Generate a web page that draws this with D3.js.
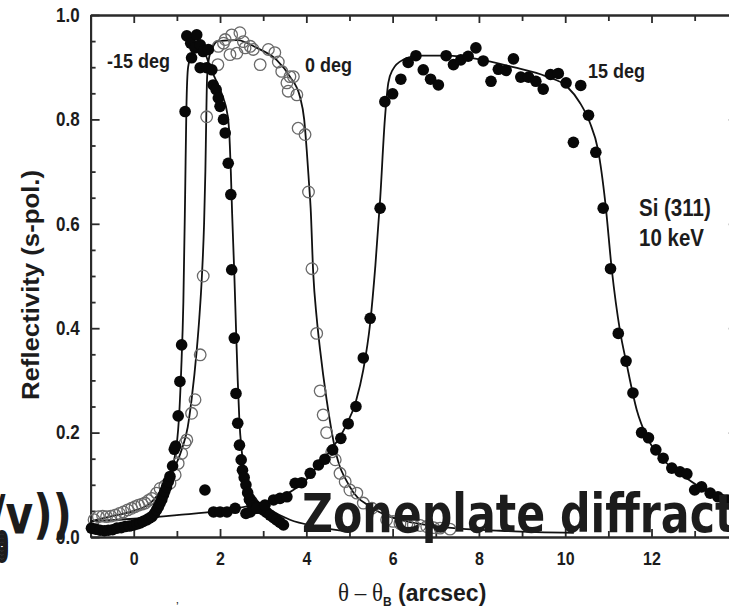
<!DOCTYPE html>
<html>
<head>
<meta charset="utf-8">
<script src="https://cdn.jsdelivr.net/npm/d3@7"></script>
<style>
  body { margin: 0; background: #fff; }
  svg { display: block; }
  text { font-family: "Liberation Sans", Arial, sans-serif; font-weight: bold; fill: #1c1c1c; }
</style>
</head>
<body>
<div id="drawing_region"></div>
<script>
const xTickValues = [0, 2, 4, 6, 8, 10, 12];
const yTickValues = [0.0, 0.2, 0.4, 0.6, 0.8, 1.0];

// -15 deg, filled circles
const m15Points = [
  [-0.98,0.017],[-0.88,0.015],[-0.78,0.013],[-0.68,0.012],[-0.59,0.013],[-0.49,0.014],[-0.39,0.017],
  [-0.29,0.018],[-0.2,0.02],[-0.1,0.021],[0.0,0.023],[0.08,0.025],[0.15,0.027],[0.22,0.03],[0.3,0.033],
  [0.36,0.036],[0.42,0.039],[0.48,0.045],[0.53,0.052],[0.57,0.058],[0.61,0.065],[0.65,0.072],[0.69,0.081],
  [0.72,0.088],[0.76,0.096],[0.8,0.106],[0.84,0.116],[0.9,0.136],[0.94,0.168],[0.97,0.174],[1.03,0.232],
  [1.07,0.298],[1.11,0.368],[1.19,0.815],[1.23,0.96],[1.32,0.946],[1.34,0.918],[1.42,0.937],[1.46,0.962],
  [1.54,0.943],[1.54,0.899],[1.61,0.93],[1.69,0.899],[1.73,0.934],[1.81,0.895],[1.84,0.866],[1.91,0.857],
  [1.96,0.841],[2.0,0.825],[2.08,0.8],[2.12,0.774],[2.19,0.716],[2.25,0.656],[2.27,0.512],[2.33,0.381],
  [2.37,0.275],[2.41,0.218],[2.45,0.176],[2.49,0.148],[2.52,0.128],[2.56,0.114],[2.6,0.1],[2.64,0.085],
  [2.68,0.072],[2.73,0.065],[2.79,0.06],[2.85,0.058],[2.92,0.055],[3.0,0.052],[3.08,0.047],[3.16,0.042],
  [3.24,0.037],[3.31,0.033],[3.39,0.028],[3.47,0.023],[1.65,0.09]
];

// 0 deg, open circles
const zeroPoints = [
  [-0.92,0.033],[-0.82,0.039],[-0.72,0.04],[-0.63,0.039],[-0.53,0.04],[-0.43,0.042],[-0.33,0.045],
  [-0.24,0.048],[-0.14,0.052],[-0.05,0.055],[0.03,0.058],[0.11,0.061],[0.19,0.063],[0.26,0.065],
  [0.34,0.07],[0.42,0.074],[0.53,0.084],[0.61,0.093],[0.72,0.098],[0.84,0.103],[0.96,0.119],[1.03,0.141],
  [1.11,0.16],[1.19,0.18],[1.23,0.186],[1.34,0.237],[1.42,0.263],[1.54,0.349],[1.61,0.50],[1.69,0.805],
  [1.95,0.905],[1.96,0.94],[2.08,0.946],[2.12,0.953],[2.23,0.924],[2.27,0.962],[2.39,0.927],[2.46,0.966],
  [2.54,0.949],[2.58,0.937],[2.70,0.940],[2.77,0.934],[2.93,0.905],[3.12,0.934],[3.27,0.928],[3.35,0.91],
  [3.43,0.892],[3.55,0.87],[3.58,0.854],[3.62,0.882],[3.70,0.882],[3.78,0.847],[3.81,0.783],[3.97,0.771],
  [4.05,0.661],[4.13,0.514],[4.24,0.39],[4.32,0.28],[4.39,0.234],[4.47,0.2],[4.59,0.163],[4.67,0.148],
  [4.78,0.122],[4.9,0.106],[5.01,0.09],[5.17,0.084],[5.32,0.065],[5.52,0.055],[5.86,0.033],[6.01,0.03],
  [6.17,0.026],[6.33,0.025],[6.48,0.023],[6.64,0.022],[6.79,0.02],[6.95,0.018],[7.1,0.017],[7.33,0.015]
];

// 15 deg, filled circles
const p15Points = [
  [1.85,0.048],[2.0,0.048],[2.16,0.048],[2.35,0.055],[2.6,0.045],[2.7,0.048],[2.85,0.055],[3.04,0.061],
  [3.24,0.071],[3.39,0.074],[3.55,0.077],[3.74,0.103],[3.89,0.104],[4.09,0.122],[4.28,0.138],[4.43,0.149],
  [4.61,0.167],[4.8,0.189],[4.97,0.217],[5.15,0.25],[5.32,0.343],[5.48,0.419],[5.71,0.63],[5.82,0.834],
  [6.0,0.849],[6.19,0.877],[6.36,0.909],[6.54,0.922],[6.71,0.895],[6.88,0.877],[7.06,0.866],[7.24,0.922],
  [7.41,0.905],[7.58,0.914],[7.75,0.921],[7.93,0.937],[8.1,0.912],[8.28,0.873],[8.45,0.896],[8.63,0.894],
  [8.8,0.916],[8.97,0.881],[9.15,0.881],[9.32,0.873],[9.49,0.858],[9.66,0.886],[9.84,0.888],[10.02,0.87],
  [10.19,0.756],[10.36,0.865],[10.54,0.808],[10.71,0.737],[10.88,0.63],[11.05,0.514],[11.23,0.39],
  [11.41,0.337],[11.57,0.276],[11.77,0.2],[11.93,0.19],[12.1,0.167],[12.27,0.151],[12.47,0.132],
  [12.66,0.125],[12.82,0.121],[13.0,0.09],[13.16,0.096],[13.36,0.084],[13.54,0.077],[13.75,0.071]
];

// fitted curves
const m15Fit = [
  [-1,0.012],[-0.5,0.018],[0,0.025],[0.3,0.033],[0.5,0.045],[0.65,0.065],[0.76,0.09],[0.85,0.115],
  [0.93,0.145],[1.0,0.18],[1.05,0.23],[1.1,0.32],[1.15,0.45],[1.19,0.65],[1.22,0.82],[1.26,0.9],
  [1.35,0.925],[1.5,0.93],[1.65,0.925],[1.77,0.9],[1.96,0.865],[2.08,0.84],[2.16,0.815],[2.21,0.78],
  [2.25,0.7],[2.28,0.62],[2.33,0.506],[2.37,0.4],[2.41,0.3],[2.45,0.22],[2.5,0.167],[2.62,0.109],
  [2.85,0.071],[3.16,0.052],[3.62,0.033],[4.24,0.02],[5.0,0.01]
];
const zeroFit = [
  [-1,0.03],[-0.5,0.04],[0,0.05],[0.38,0.065],[0.69,0.096],[0.9,0.125],[1.11,0.167],[1.25,0.21],
  [1.34,0.263],[1.46,0.358],[1.52,0.42],[1.58,0.5],[1.63,0.6],[1.66,0.7],[1.68,0.8],[1.7,0.88],
  [1.75,0.92],[1.84,0.94],[1.95,0.95],[2.4,0.952],[2.85,0.937],[3.31,0.914],[3.62,0.882],[3.85,0.844],
  [3.95,0.8],[4.01,0.74],[4.06,0.68],[4.1,0.63],[4.16,0.505],[4.24,0.42],[4.32,0.358],[4.47,0.263],
  [4.67,0.167],[5.01,0.096],[5.48,0.058],[5.94,0.039],[6.5,0.027],[7.3,0.018],[8.5,0.012],[10.2,0.008]
];
const p15Fit = [
  [-1,0.03],[0,0.035],[1,0.042],[2,0.05],[2.7,0.06],[3.2,0.07],[3.6,0.085],[4.0,0.11],[4.3,0.14],
  [4.6,0.17],[4.9,0.21],[5.15,0.26],[5.32,0.32],[5.48,0.41],[5.6,0.52],[5.71,0.646],[5.82,0.8],
  [5.9,0.87],[6.0,0.895],[6.24,0.914],[6.63,0.922],[7.26,0.922],[7.95,0.916],[8.8,0.9],[9.57,0.882],
  [10.04,0.863],[10.34,0.832],[10.57,0.794],[10.76,0.742],[10.93,0.64],[11.08,0.512],[11.27,0.395],
  [11.42,0.333],[11.66,0.243],[11.89,0.192],[12.27,0.148],[12.66,0.122],[13.12,0.096],[13.8,0.077],[14,0.072]
];

// the scanned figure is a bit taller than wide, so text gets stretched vertically
const STRETCH = 1.15;

class ReflectivityChart {
    constructor(selector) {
        this.width = 729;
        this.height = 611;
        this.margin = { top: 15, right: -8.8, bottom: 74, left: 90.6 };

        this.svg = d3.select(selector).append("svg")
            .attr("width", this.width)
            .attr("height", this.height);

        this.inner_width = this.width - this.margin.left - this.margin.right;
        this.inner_height = this.height - this.margin.top - this.margin.bottom;

        this.chart = this.svg.append("g")
            .attr("transform", `translate(${this.margin.left}, ${this.margin.top})`);

        this.xscale = d3.scaleLinear().domain([-1, 14]).range([0, this.inner_width]);
        this.yscale = d3.scaleLinear().domain([0, 1]).range([this.inner_height, 0]);
    }

    render() {
        this.drawAxes();
        this.drawCurves();
        this.drawPoints();
        this.drawLabels();
        this.drawOverlay();
    }

    drawAxes() {
        const minorX = d3.range(-1, 15, 1).filter(v => v % 2 !== 0);
        const minorY = d3.range(0, 1.001, 0.05).filter((v, i) => i % 4 !== 0);
        const fmt = d3.format(".1f");

        const styleAxis = g => {
            g.select(".domain").attr("stroke", "#2a2a2a").attr("stroke-width", 2);
            g.selectAll(".tick line").attr("stroke", "#2a2a2a").attr("stroke-width", 1.8);
            g.selectAll(".tick text").attr("fill", "#1c1c1c")
                .style("font-family", '"Liberation Sans", Arial, sans-serif')
                .style("font-weight", "bold");
        };

        // bottom
        this.chart.append("g").attr("transform", `translate(0, ${this.inner_height})`)
            .call(d3.axisBottom(this.xscale).tickValues(minorX).tickSize(-6).tickSizeOuter(0).tickFormat(""))
            .call(styleAxis);
        this.chart.append("g").attr("transform", `translate(0, ${this.inner_height})`)
            .call(d3.axisBottom(this.xscale).tickValues(xTickValues).tickSize(-8).tickSizeOuter(0).tickPadding(13))
            .call(styleAxis)
            .call(g => g.selectAll(".tick text").attr("font-size", 16)
                .attr("transform", `scale(1, ${STRETCH})`));

        // top
        this.chart.append("g")
            .call(d3.axisTop(this.xscale).tickValues(minorX).tickSize(-6).tickSizeOuter(0).tickFormat(""))
            .call(styleAxis);
        this.chart.append("g")
            .call(d3.axisTop(this.xscale).tickValues(xTickValues).tickSize(-8).tickSizeOuter(0).tickFormat(""))
            .call(styleAxis);

        // left
        this.chart.append("g")
            .call(d3.axisLeft(this.yscale).tickValues(minorY).tickSize(-5).tickSizeOuter(0).tickFormat(""))
            .call(styleAxis);
        this.chart.append("g")
            .call(d3.axisLeft(this.yscale).tickValues(yTickValues).tickSize(-9).tickSizeOuter(0).tickPadding(11).tickFormat(fmt))
            .call(styleAxis)
            .call(g => g.selectAll(".tick text").attr("font-size", 17)
                .attr("transform", `scale(1, ${STRETCH})`));

        // right
        this.chart.append("g").attr("transform", `translate(${this.inner_width}, 0)`)
            .call(d3.axisRight(this.yscale).tickValues(minorY).tickSize(-5).tickSizeOuter(0).tickFormat(""))
            .call(styleAxis);
        this.chart.append("g").attr("transform", `translate(${this.inner_width}, 0)`)
            .call(d3.axisRight(this.yscale).tickValues(yTickValues).tickSize(-9).tickSizeOuter(0).tickFormat(""))
            .call(styleAxis);
    }

    drawCurves() {
        const line = d3.line()
            .x(d => this.xscale(d[0]))
            .y(d => this.yscale(d[1]))
            .curve(d3.curveMonotoneX);

        this.chart.selectAll("path.fit")
            .data([m15Fit, zeroFit, p15Fit])
            .enter().append("path")
            .attr("class", "fit")
            .attr("d", line)
            .attr("fill", "none")
            .attr("stroke", "#111")
            .attr("stroke-width", 1.8);
    }

    drawPoints() {
        this.chart.append("g").selectAll("circle")
            .data(zeroPoints)
            .enter().append("circle")
            .attr("cx", d => this.xscale(d[0]))
            .attr("cy", d => this.yscale(d[1]))
            .attr("r", 5.8)
            .attr("fill", "none")
            .attr("stroke", "#6a6a6a")
            .attr("stroke-width", 1.3);

        this.chart.append("g").selectAll("circle")
            .data(m15Points.concat(p15Points))
            .enter().append("circle")
            .attr("cx", d => this.xscale(d[0]))
            .attr("cy", d => this.yscale(d[1]))
            .attr("r", 5.8)
            .attr("fill", "#080808");
    }

    drawLabels() {
        const note = (x, y, str, size) => this.svg.append("text")
            .attr("transform", `translate(${x}, ${y}) scale(1, ${STRETCH})`)
            .attr("font-size", size).text(str);

        note(107, 68, "-15 deg", 18);
        note(305, 72, "0 deg", 18);
        note(588, 78, "15 deg", 18);
        note(639, 216, "Si (311)", 20.5);
        note(639, 246, "10 keV", 20.5);

        this.svg.append("text")
            .attr("transform", "translate(38.5, 285) rotate(-90)")
            .attr("text-anchor", "middle")
            .attr("font-size", 23)
            .attr("textLength", 230)
            .attr("lengthAdjust", "spacingAndGlyphs")
            .text("Reflectivity (s-pol.)");

        const xt = this.svg.append("text")
            .attr("transform", `translate(338, 601) scale(1, 1.05)`);
        xt.append("tspan")
            .style("font-family", '"Liberation Serif", "Times New Roman", serif')
            .style("font-weight", "normal")
            .attr("font-size", 23)
            .text("\u03b8 \u2013 \u03b8");
        xt.append("tspan").attr("font-size", 12).attr("dy", 5).text("B");
        xt.append("tspan").attr("font-size", 23).attr("dy", -5).text(" (arcsec)");

        this.svg.append("text").attr("x", 176).attr("y", 611)
            .attr("font-size", 12).style("font-weight", "normal").text("\u2019");
    }

    drawOverlay() {
        const family = '"Comic Sans MS", "DejaVu Sans", sans-serif';
        const measure = (str, size) => {
            const t = this.svg.append("text").style("font-family", family)
                .attr("font-size", size).text(str);
            const w = t.node().getComputedTextLength();
            t.remove();
            return w;
        };

        const size = 54;
        const full = "Zoneplate diffraction";
        const wFull = measure(full, size);
        const wPart = measure("Zoneplate diffrac", size);
        this.svg.append("text")
            .attr("x", 302).attr("y", 532)
            .style("font-family", family)
            .attr("font-size", size)
            .attr("fill", "#000")
            .attr("textLength", 413 * wFull / wPart)
            .attr("lengthAdjust", "spacingAndGlyphs")
            .text(full);

        this.svg.append("text")
            .attr("x", -10).attr("y", 533)
            .style("font-family", family)
            .attr("font-size", 54)
            .attr("fill", "#000")
            .attr("textLength", 82)
            .attr("lengthAdjust", "spacingAndGlyphs")
            .text("/v))");

        // stacked, clipped zeros from the slide underneath
        this.svg.append("g").selectAll("text")
            .data([551, 555, 559, 563])
            .enter().append("text")
            .attr("transform", d => `translate(-5, ${d}) scale(0.9, 1.3)`)
            .style("font-family", family)
            .attr("font-size", 22)
            .attr("fill", "#000")
            .text("0");
    }
}

const chart = new ReflectivityChart("#drawing_region");
chart.render();
</script>
</body>
</html>
